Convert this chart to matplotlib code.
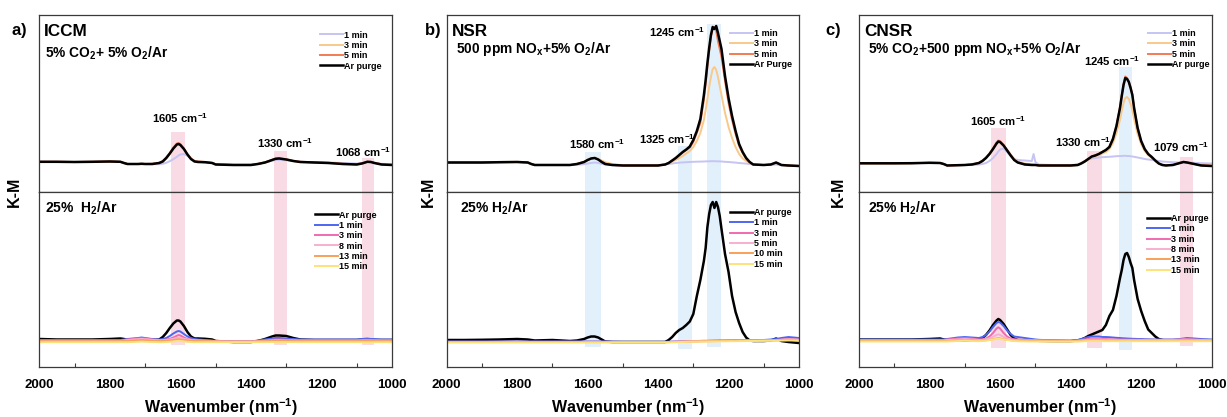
import matplotlib
matplotlib.use('Agg')
import matplotlib.pyplot as plt

plt.rcParams['font.family'] = ['Liberation Sans', 'DejaVu Sans']
plt.rcParams['font.weight'] = 'bold'
plt.rcParams['mathtext.fontset'] = 'custom'
plt.rcParams['mathtext.rm'] = 'Liberation Sans'
plt.rcParams['mathtext.bf'] = 'Liberation Sans:bold'
plt.rcParams['mathtext.default'] = 'bf'

# ---------------- ICCM (a) ----------------
wn_a = [2000, 1950, 1900, 1850, 1800, 1770, 1760, 1750,
        1720, 1710, 1700, 1680, 1660, 1650, 1640, 1630,
        1620, 1610, 1605, 1600, 1590, 1580, 1570, 1560,
        1550, 1530, 1510, 1500, 1450, 1400, 1380, 1360,
        1340, 1330, 1320, 1300, 1280, 1260, 1220, 1180,
        1140, 1100, 1085, 1070, 1060, 1050, 1030, 1000]

iccm_ads_1 = [0.12, 0.12, 0.10, 0.12, 0.15, 0.12, 0.00, -0.10,
              -0.10, -0.08, -0.10, -0.12, -0.12, -0.08, 0.02, 0.18,
              0.38, 0.62, 0.75, 0.85, 0.90, 0.72, 0.42, 0.22,
              0.12, 0.05, 0.00, -0.12, -0.18, -0.18, -0.08, 0.05,
              0.22, 0.30, 0.32, 0.28, 0.20, 0.12, 0.08, 0.05,
              0.00, -0.05, 0.00, 0.10, 0.08, 0.02, -0.08, -0.12]
iccm_ads_3 = [0.12, 0.12, 0.10, 0.12, 0.15, 0.12, 0.00, -0.10,
              -0.10, -0.08, -0.10, -0.10, 0.00, 0.12, 0.45, 0.90,
              1.40, 1.80, 1.85, 1.78, 1.38, 0.85, 0.42, 0.18,
              0.12, 0.08, 0.00, -0.15, -0.20, -0.20, -0.10, 0.05,
              0.28, 0.40, 0.44, 0.34, 0.20, 0.10, 0.05, 0.00,
              -0.10, -0.15, -0.05, 0.10, 0.08, 0.00, -0.15, -0.20]
iccm_ads_5 = [0.12, 0.12, 0.10, 0.12, 0.15, 0.12, 0.00, -0.10,
              -0.10, -0.08, -0.10, -0.08, 0.02, 0.20, 0.55, 1.00,
              1.55, 1.95, 2.00, 1.90, 1.45, 0.90, 0.45, 0.20,
              0.15, 0.10, 0.02, -0.12, -0.18, -0.18, -0.08, 0.08,
              0.32, 0.45, 0.48, 0.38, 0.22, 0.12, 0.06, 0.02,
              -0.08, -0.12, -0.02, 0.14, 0.12, 0.02, -0.12, -0.18]
iccm_ads_ar = [0.12, 0.12, 0.10, 0.12, 0.15, 0.12, 0.00, -0.10,
               -0.10, -0.08, -0.10, -0.10, 0.00, 0.15, 0.50, 0.95,
               1.45, 1.85, 1.90, 1.80, 1.40, 0.85, 0.40, 0.15,
               0.10, 0.08, 0.00, -0.15, -0.20, -0.20, -0.10, 0.05,
               0.30, 0.42, 0.45, 0.35, 0.20, 0.10, 0.05, 0.00,
               -0.10, -0.15, -0.05, 0.12, 0.10, 0.00, -0.15, -0.20]

iccm_red_ar = [0.10, 0.05, 0.05, 0.05, 0.10, 0.15, 0.10, 0.00,
               0.00, 0.05, 0.00, 0.00, 0.05, 0.30, 0.70, 1.20,
               1.65, 1.95, 1.95, 1.85, 1.40, 0.80, 0.35, 0.15,
               0.15, 0.12, 0.05, -0.10, -0.20, -0.20, -0.10, 0.10,
               0.35, 0.45, 0.45, 0.40, 0.20, 0.05, 0.00, 0.00,
               0.00, 0.00, 0.05, 0.05, 0.05, 0.00, 0.00, 0.00]
iccm_red_1 = [0.00, 0.00, 0.00, 0.00, 0.00, 0.00, 0.05, 0.10,
              0.20, 0.25, 0.20, 0.10, 0.05, 0.10, 0.20, 0.40,
              0.65, 0.85, 0.90, 0.85, 0.60, 0.35, 0.20, 0.10,
              0.05, 0.00, -0.05, -0.10, -0.15, -0.15, -0.05, 0.05,
              0.15, 0.20, 0.20, 0.15, 0.10, 0.05, 0.05, 0.05,
              0.05, 0.05, 0.10, 0.15, 0.10, 0.10, 0.05, 0.05]
iccm_red_3 = [-0.05, -0.05, -0.05, -0.05, -0.05, -0.05, 0.00, 0.05,
              0.15, 0.18, 0.15, 0.05, 0.00, 0.00, 0.05, 0.12,
              0.25, 0.42, 0.50, 0.45, 0.25, 0.10, 0.05, 0.00,
              0.00, -0.05, -0.08, -0.12, -0.15, -0.15, -0.10, -0.05,
              0.02, 0.05, 0.05, 0.02, 0.00, -0.02, -0.02, -0.02,
              -0.02, -0.02, 0.00, 0.02, 0.00, 0.00, -0.02, -0.02]
iccm_red_8 = [-0.08, -0.08, -0.08, -0.08, -0.08, -0.08, -0.05, 0.00,
              0.08, 0.10, 0.08, 0.02, -0.03, -0.03, 0.00, 0.05,
              0.12, 0.22, 0.25, 0.22, 0.12, 0.05, 0.00, -0.03,
              -0.05, -0.08, -0.10, -0.12, -0.15, -0.15, -0.12, -0.08,
              -0.05, -0.03, -0.03, -0.05, -0.06, -0.07, -0.07, -0.07,
              -0.07, -0.07, -0.05, -0.05, -0.05, -0.06, -0.07, -0.07]
iccm_red_13 = [-0.12, -0.12, -0.12, -0.12, -0.12, -0.12, -0.10, -0.08,
               -0.02, 0.00, -0.02, -0.06, -0.10, -0.10, -0.08, -0.05,
               0.00, 0.05, 0.08, 0.05, 0.00, -0.05, -0.08, -0.10,
               -0.10, -0.12, -0.12, -0.14, -0.16, -0.16, -0.14, -0.12,
               -0.10, -0.10, -0.10, -0.10, -0.11, -0.12, -0.12, -0.12,
               -0.12, -0.12, -0.10, -0.10, -0.10, -0.11, -0.12, -0.12]
iccm_red_15 = [-0.22, -0.22, -0.22, -0.22, -0.22, -0.22, -0.22, -0.22,
               -0.18, -0.16, -0.18, -0.20, -0.22, -0.22, -0.20, -0.18,
               -0.14, -0.10, -0.08, -0.10, -0.14, -0.18, -0.20, -0.22,
               -0.22, -0.22, -0.22, -0.22, -0.22, -0.22, -0.22, -0.22,
               -0.20, -0.20, -0.20, -0.20, -0.21, -0.22, -0.22, -0.22,
               -0.22, -0.22, -0.22, -0.22, -0.22, -0.22, -0.22, -0.22]

# ---------------- NSR (b) ----------------
wn_b = [2000, 1950, 1900, 1850, 1800, 1770, 1760, 1750,
        1700, 1650, 1630, 1610, 1600, 1590, 1580, 1570,
        1560, 1550, 1530, 1500, 1450, 1400, 1380, 1370,
        1360, 1350, 1340, 1330, 1320, 1310, 1300, 1290,
        1280, 1270, 1265, 1260, 1255, 1250, 1245, 1240,
        1235, 1230, 1225, 1220, 1210, 1200, 1190, 1180,
        1170, 1160, 1150, 1140, 1130, 1100, 1080, 1065,
        1050, 1030, 1000]

nsr_ads_1 = [0.05, 0.05, 0.05, 0.08, 0.10, 0.05, -0.10, -0.20,
             -0.20, -0.20, -0.18, -0.12, -0.05, 0.00, 0.05, 0.00,
             -0.08, -0.15, -0.20, -0.25, -0.25, -0.22, -0.15, -0.10,
             -0.05, 0.00, 0.03, 0.06, 0.08, 0.10, 0.12, 0.13,
             0.14, 0.15, 0.16, 0.17, 0.17, 0.18, 0.18, 0.18,
             0.17, 0.17, 0.16, 0.15, 0.12, 0.10, 0.07, 0.04,
             0.00, -0.03, -0.06, -0.10, -0.15, -0.20, -0.20, -0.15,
             -0.22, -0.25, -0.28]
nsr_ads_3 = [0.08, 0.08, 0.08, 0.10, 0.12, 0.08, -0.08, -0.18,
             -0.18, -0.18, -0.08, 0.12, 0.32, 0.48, 0.52, 0.42,
             0.25, 0.08, -0.10, -0.22, -0.25, -0.25, -0.15, 0.00,
             0.15, 0.30, 0.50, 0.70, 0.95, 1.20, 1.60, 2.20,
             3.00, 4.30, 5.30, 6.40, 7.60, 8.60, 9.40, 9.60,
             9.30, 8.60, 7.70, 6.80, 5.00, 3.60, 2.50, 1.60,
             0.90, 0.45, 0.20, 0.00, -0.15, -0.20, -0.15, 0.05,
             -0.20, -0.25, -0.30]
nsr_ads_5 = [0.05, 0.05, 0.05, 0.08, 0.10, 0.05, -0.10, -0.20,
             -0.20, -0.20, -0.10, 0.10, 0.30, 0.45, 0.50, 0.35,
             0.12, -0.08, -0.20, -0.25, -0.25, -0.25, -0.15, 0.00,
             0.22, 0.45, 0.75, 1.05, 1.30, 1.55, 2.10, 3.00,
             4.00, 6.30, 7.90, 9.60, 11.20, 12.60, 13.40, 13.60,
             13.20, 12.20, 11.40, 10.60, 8.20, 6.00, 4.30, 2.90,
             1.70, 1.00, 0.40, 0.08, -0.15, -0.20, -0.15, 0.05,
             -0.20, -0.25, -0.30]
nsr_ads_ar = [0.05, 0.05, 0.05, 0.08, 0.10, 0.05, -0.10, -0.20,
              -0.20, -0.20, -0.10, 0.10, 0.30, 0.45, 0.50, 0.35,
              0.10, -0.10, -0.20, -0.25, -0.25, -0.25, -0.15, 0.00,
              0.25, 0.50, 0.80, 1.10, 1.35, 1.65, 2.30, 3.20,
              4.40, 6.80, 8.30, 10.00, 11.50, 12.80, 13.60, 13.40,
              13.70, 13.00, 12.20, 11.40, 8.70, 6.50, 4.70, 3.20,
              1.90, 1.10, 0.50, 0.10, -0.15, -0.20, -0.15, 0.05,
              -0.20, -0.25, -0.30]

nsr_red_ar = [0.00, 0.00, 0.02, 0.05, 0.10, 0.05, 0.00, -0.05,
              0.00, -0.10, -0.05, 0.10, 0.25, 0.35, 0.35, 0.25,
              0.05, -0.15, -0.20, -0.20, -0.20, -0.20, -0.20, 0.00,
              0.30, 0.70, 1.00, 1.20, 1.50, 1.85, 2.60, 4.40,
              6.00, 7.90, 9.20, 11.30, 12.60, 13.50, 13.80, 13.20,
              13.80, 13.30, 12.40, 11.10, 8.60, 6.80, 4.40, 2.80,
              1.70, 0.80, 0.25, -0.05, -0.10, -0.10, -0.05, 0.15,
              -0.10, -0.20, -0.30]
nsr_red_1 = [-0.15, -0.15, -0.15, -0.15, -0.15, -0.15, -0.15, -0.15,
             -0.15, -0.15, -0.15, -0.15, -0.15, -0.15, -0.15, -0.15,
             -0.15, -0.15, -0.16, -0.18, -0.18, -0.18, -0.18, -0.17,
             -0.16, -0.15, -0.14, -0.13, -0.12, -0.11, -0.10, -0.10,
             -0.09, -0.08, -0.08, -0.08, -0.07, -0.07, -0.07, -0.06,
             -0.06, -0.06, -0.05, -0.05, -0.05, -0.04, -0.04, -0.03,
             -0.03, -0.02, -0.02, -0.01, 0.00, 0.00, 0.05, 0.10,
             0.20, 0.30, 0.20]
nsr_red_3 = [-0.18, -0.18, -0.18, -0.18, -0.18, -0.18, -0.18, -0.18,
             -0.18, -0.18, -0.18, -0.18, -0.18, -0.18, -0.18, -0.18,
             -0.18, -0.18, -0.19, -0.20, -0.20, -0.20, -0.20, -0.19,
             -0.18, -0.17, -0.16, -0.15, -0.14, -0.13, -0.12, -0.12,
             -0.11, -0.10, -0.10, -0.10, -0.10, -0.09, -0.09, -0.09,
             -0.09, -0.08, -0.08, -0.08, -0.07, -0.07, -0.06, -0.06,
             -0.05, -0.05, -0.04, -0.04, -0.03, -0.03, -0.02, 0.00,
             0.05, 0.08, 0.05]
nsr_red_5 = [-0.19, -0.19, -0.19, -0.19, -0.19, -0.19, -0.19, -0.19,
             -0.19, -0.19, -0.19, -0.19, -0.19, -0.19, -0.19, -0.19,
             -0.19, -0.19, -0.20, -0.21, -0.21, -0.21, -0.21, -0.20,
             -0.19, -0.18, -0.17, -0.16, -0.15, -0.14, -0.13, -0.13,
             -0.12, -0.11, -0.11, -0.11, -0.11, -0.10, -0.10, -0.10,
             -0.10, -0.09, -0.09, -0.09, -0.08, -0.08, -0.07, -0.07,
             -0.06, -0.06, -0.05, -0.05, -0.04, -0.04, -0.03, -0.02,
             0.02, 0.04, 0.02]
nsr_red_10 = [-0.20, -0.20, -0.20, -0.20, -0.20, -0.20, -0.20, -0.20,
              -0.20, -0.20, -0.20, -0.20, -0.20, -0.20, -0.20, -0.20,
              -0.20, -0.20, -0.21, -0.22, -0.22, -0.22, -0.22, -0.21,
              -0.20, -0.19, -0.18, -0.17, -0.16, -0.15, -0.14, -0.14,
              -0.13, -0.12, -0.12, -0.12, -0.12, -0.11, -0.11, -0.11,
              -0.11, -0.10, -0.10, -0.10, -0.09, -0.09, -0.08, -0.08,
              -0.07, -0.07, -0.06, -0.06, -0.05, -0.05, -0.04, -0.04,
              0.00, 0.02, 0.00]
nsr_red_15 = [-0.25, -0.25, -0.25, -0.25, -0.25, -0.25, -0.25, -0.25,
              -0.25, -0.25, -0.25, -0.25, -0.25, -0.25, -0.25, -0.25,
              -0.25, -0.25, -0.25, -0.25, -0.25, -0.25, -0.25, -0.24,
              -0.23, -0.22, -0.21, -0.20, -0.19, -0.18, -0.17, -0.17,
              -0.16, -0.16, -0.16, -0.15, -0.15, -0.15, -0.15, -0.14,
              -0.14, -0.14, -0.14, -0.13, -0.13, -0.12, -0.12, -0.12,
              -0.11, -0.11, -0.10, -0.10, -0.10, -0.09, -0.08, -0.08,
              -0.06, -0.05, -0.05]

# ---------------- CNSR (c) ----------------
wn_c = [2000, 1950, 1900, 1850, 1800, 1770, 1760, 1750,
        1720, 1700, 1680, 1660, 1650, 1640, 1630, 1620,
        1610, 1605, 1600, 1590, 1580, 1570, 1560, 1550,
        1530, 1510, 1505, 1500, 1490, 1450, 1400, 1380,
        1370, 1360, 1350, 1340, 1330, 1320, 1310, 1300,
        1290, 1280, 1270, 1260, 1255, 1250, 1245, 1240,
        1235, 1230, 1225, 1220, 1210, 1200, 1190, 1180,
        1170, 1160, 1150, 1140, 1130, 1110, 1090, 1080,
        1070, 1050, 1030, 1000]

cnsr_ads_1 = [0.07, 0.07, 0.07, 0.08, 0.12, 0.10, 0.00, -0.15,
              -0.12, -0.10, -0.10, -0.05, 0.00, 0.10, 0.30, 0.60,
              1.00, 1.25, 1.45, 1.55, 1.20, 0.80, 0.50, 0.40,
              0.35, 0.30, 1.00, 0.20, -0.05, -0.10, -0.10, -0.05,
              0.10, 0.30, 0.45, 0.55, 0.60, 0.65, 0.68, 0.70,
              0.72, 0.75, 0.78, 0.80, 0.80, 0.82, 0.82, 0.80,
              0.80, 0.78, 0.75, 0.72, 0.65, 0.58, 0.50, 0.45,
              0.40, 0.35, 0.30, 0.25, 0.22, 0.18, 0.15, 0.18,
              0.15, 0.12, 0.08, 0.05]
cnsr_ads_3 = [0.07, 0.07, 0.07, 0.08, 0.12, 0.10, 0.00, -0.15,
              -0.12, -0.10, -0.05, 0.10, 0.30, 0.60, 1.00, 1.50,
              2.00, 2.20, 2.15, 1.85, 1.40, 0.95, 0.50, 0.25,
              0.05, -0.05, -0.08, -0.10, -0.15, -0.15, -0.15, -0.10,
              0.05, 0.22, 0.45, 0.65, 0.78, 0.90, 1.05, 1.20,
              1.50, 2.10, 3.10, 4.40, 5.30, 6.10, 6.60, 6.70,
              6.50, 6.00, 5.40, 4.50, 3.00, 2.00, 1.30, 0.90,
              0.60, 0.30, 0.05, -0.08, -0.12, -0.08, 0.10, 0.18,
              0.15, 0.00, -0.12, -0.18]
cnsr_ads_5 = [0.07, 0.07, 0.07, 0.08, 0.12, 0.10, 0.00, -0.15,
              -0.12, -0.10, -0.05, 0.12, 0.35, 0.65, 1.05, 1.58,
              2.15, 2.35, 2.28, 1.90, 1.40, 0.90, 0.45, 0.18,
              -0.03, -0.08, -0.08, -0.08, -0.13, -0.15, -0.15, -0.10,
              0.08, 0.28, 0.52, 0.75, 0.88, 1.02, 1.22, 1.42,
              1.75, 2.55, 3.85, 5.70, 6.90, 8.00, 8.75, 8.60,
              8.25, 7.70, 6.95, 5.60, 3.55, 2.25, 1.45, 0.98,
              0.68, 0.32, 0.05, -0.08, -0.12, -0.08, 0.12, 0.22,
              0.15, 0.02, -0.12, -0.18]
cnsr_ads_ar = [0.07, 0.07, 0.07, 0.08, 0.12, 0.10, 0.00, -0.15,
               -0.12, -0.10, -0.05, 0.10, 0.30, 0.60, 1.00, 1.50,
               2.05, 2.25, 2.20, 1.85, 1.35, 0.85, 0.40, 0.15,
               -0.05, -0.10, -0.10, -0.10, -0.15, -0.15, -0.15, -0.10,
               0.05, 0.25, 0.50, 0.75, 0.85, 1.00, 1.20, 1.40,
               1.70, 2.50, 3.80, 5.60, 6.80, 7.90, 8.60, 8.50,
               8.20, 7.60, 6.90, 5.60, 3.60, 2.30, 1.50, 1.00,
               0.70, 0.35, 0.05, -0.10, -0.15, -0.10, 0.10, 0.20,
               0.15, 0.00, -0.15, -0.20]

cnsr_red_ar = [0.05, 0.05, 0.05, 0.05, 0.10, 0.15, 0.05, 0.00,
               0.00, 0.00, 0.00, 0.05, 0.20, 0.50, 0.95, 1.50,
               1.95, 2.10, 2.00, 1.60, 1.05, 0.50, 0.15, 0.00,
               -0.05, -0.05, -0.05, -0.05, -0.08, -0.10, -0.10, -0.05,
               0.05, 0.20, 0.40, 0.55, 0.70, 0.85, 1.00, 1.50,
               2.40, 3.00, 4.40, 6.20, 7.00, 8.00, 8.60, 8.70,
               8.30, 7.70, 7.20, 6.00, 4.10, 2.90, 1.90, 1.05,
               0.70, 0.35, 0.10, 0.00, -0.05, -0.05, 0.00, 0.00,
               0.00, 0.00, -0.05, -0.05]
cnsr_red_1 = [0.05, 0.05, 0.05, 0.05, 0.05, 0.05, 0.05, 0.10,
              0.25, 0.30, 0.25, 0.20, 0.30, 0.50, 0.85, 1.30,
              1.70, 1.80, 1.75, 1.40, 0.95, 0.60, 0.35, 0.30,
              0.20, 0.10, 0.08, 0.05, 0.02, -0.05, -0.10, 0.00,
              0.10, 0.20, 0.30, 0.35, 0.35, 0.35, 0.30, 0.30,
              0.28, 0.25, 0.22, 0.20, 0.18, 0.17, 0.16, 0.15,
              0.14, 0.13, 0.12, 0.12, 0.10, 0.10, 0.08, 0.07,
              0.06, 0.05, 0.05, 0.05, 0.05, 0.05, 0.10, 0.15,
              0.20, 0.15, 0.10, 0.05]
cnsr_red_3 = [0.00, 0.00, 0.00, 0.00, 0.00, 0.00, 0.00, 0.05,
              0.15, 0.20, 0.15, 0.05, 0.08, 0.15, 0.35, 0.70,
              1.15, 1.27, 1.15, 0.70, 0.35, 0.15, 0.08, 0.05,
              0.02, 0.00, 0.00, 0.00, -0.02, -0.05, -0.08, -0.05,
              0.00, 0.05, 0.10, 0.15, 0.15, 0.15, 0.12, 0.10,
              0.08, 0.06, 0.05, 0.05, 0.05, 0.04, 0.04, 0.04,
              0.04, 0.03, 0.03, 0.03, 0.02, 0.02, 0.02, 0.02,
              0.02, 0.02, 0.02, 0.02, 0.02, 0.02, 0.05, 0.08,
              0.08, 0.05, 0.02, 0.00]
cnsr_red_8 = [-0.05, -0.05, -0.05, -0.05, -0.05, -0.05, -0.05, 0.00,
              0.05, 0.10, 0.05, 0.00, 0.02, 0.08, 0.18, 0.32,
              0.50, 0.57, 0.50, 0.32, 0.15, 0.05, 0.00, -0.02,
              -0.04, -0.05, -0.05, -0.05, -0.06, -0.08, -0.10, -0.08,
              -0.05, -0.02, 0.02, 0.05, 0.05, 0.05, 0.04, 0.03,
              0.02, 0.01, 0.00, 0.00, 0.00, 0.00, 0.00, 0.00,
              0.00, 0.00, 0.00, 0.00, 0.00, 0.00, 0.00, 0.00,
              0.00, 0.00, 0.00, 0.00, 0.00, 0.00, 0.02, 0.04,
              0.04, 0.02, 0.00, -0.02]
cnsr_red_13 = [-0.10, -0.10, -0.10, -0.10, -0.10, -0.10, -0.10, -0.10,
               -0.05, -0.02, -0.05, -0.08, -0.06, -0.03, 0.02, 0.08,
               0.15, 0.18, 0.15, 0.08, 0.02, -0.03, -0.06, -0.08,
               -0.10, -0.10, -0.10, -0.10, -0.11, -0.12, -0.12, -0.11,
               -0.10, -0.08, -0.06, -0.05, -0.05, -0.05, -0.06, -0.06,
               -0.07, -0.07, -0.07, -0.07, -0.07, -0.07, -0.07, -0.07,
               -0.07, -0.07, -0.07, -0.07, -0.07, -0.07, -0.07, -0.07,
               -0.07, -0.07, -0.07, -0.07, -0.07, -0.07, -0.05, -0.04,
               -0.04, -0.06, -0.08, -0.08]
cnsr_red_15 = [-0.15, -0.15, -0.15, -0.15, -0.15, -0.15, -0.15, -0.15,
               -0.10, -0.06, -0.10, -0.12, -0.10, -0.06, 0.00, 0.05,
               0.10, 0.12, 0.10, 0.05, 0.00, -0.05, -0.10, -0.12,
               -0.14, -0.15, -0.15, -0.15, -0.15, -0.16, -0.16, -0.15,
               -0.14, -0.12, -0.11, -0.10, -0.10, -0.10, -0.11, -0.12,
               -0.12, -0.12, -0.12, -0.12, -0.12, -0.12, -0.12, -0.12,
               -0.12, -0.12, -0.12, -0.12, -0.12, -0.12, -0.12, -0.12,
               -0.12, -0.12, -0.12, -0.12, -0.12, -0.12, -0.12, -0.12,
               -0.12, -0.12, -0.12, -0.12]

# highlighted bands: (low edge, high edge, colour key, top in upper plot, bottom in lower plot)
bands_a = [(1587, 1627, 'p', 3.1, -0.5), (1297, 1335, 'p', 1.2, -0.5), (1050, 1086, 'p', 0.5, -0.5)]
bands_b = [(1562, 1607, 'b', 1.1, -0.7), (1304, 1343, 'b', 1.7, -0.9), (1222, 1262, 'b', 13.9, -0.7)]
bands_c = [(1584, 1626, 'p', 3.6, -0.8), (1311, 1353, 'p', 1.3, -0.8),
           (1225, 1263, 'b', 9.7, -1.0), (1052, 1090, 'p', 0.7, -0.6)]

# peak labels: (value, x, y)
peaks_a = [(1605, 1601, 4.5), (1330, 1303, 2.0), (1068, 1081, 1.1)]
peaks_b = [(1245, 1345, 13.1), (1580, 1573, 1.9), (1325, 1376, 2.4)]
peaks_c = [(1605, 1606, 4.3), (1330, 1366, 2.2), (1245, 1284, 10.3), (1079, 1086, 1.7)]

band_col = {'p': '#f9dbe5', 'b': '#e2f0fb'}
ads_cols = ['#c6c4f2', '#f7c98b', '#f47b52', 'black']
red_cols = ['black', '#4d66f0', '#f06bb0', '#f7b0d2', '#f9a05a', '#fde27a']

W, H = 1227, 417
fig = plt.figure(figsize=(W / 100, H / 100), dpi=100)


def fx(x):
    return x / W


def fy(y):
    return 1 - y / H


panels = [
    dict(left=39.3, right=392, letter='a', name='ICCM', let_x=19,
         feed='5% CO$_2$+ 5% O$_2$/Ar', feed_x=45, feed_y=53, red='25%  H$_2$/Ar', red_x=45,
         wn=wn_a, ads=[iccm_ads_1, iccm_ads_3, iccm_ads_5, iccm_ads_ar],
         ads_lab=['1 min', '3 min', '5 min', 'Ar purge'],
         red_lines=[iccm_red_ar, iccm_red_1, iccm_red_3, iccm_red_8, iccm_red_13, iccm_red_15],
         red_lab=['Ar purge', '1 min', '3 min', '8 min', '13 min', '15 min'],
         bands=bands_a, peaks=peaks_a, ylim_t=(-2.9, 14.8), ylim_b=(-2.7, 14.8),
         leg_t=(320, 30.5), leg_b=(315, 210.5), km_x=14),
    dict(left=446.7, right=799, letter='b', name='NSR', let_x=432,
         feed='500 ppm NO$_x$+5% O$_2$/Ar', feed_x=456, feed_y=49.5, red='25% H$_2$/Ar', red_x=460,
         wn=wn_b, ads=[nsr_ads_1, nsr_ads_3, nsr_ads_5, nsr_ads_ar],
         ads_lab=['1 min', '3 min', '5 min', 'Ar Purge'],
         red_lines=[nsr_red_ar, nsr_red_1, nsr_red_3, nsr_red_5, nsr_red_10, nsr_red_15],
         red_lab=['Ar purge', '1 min', '3 min', '5 min', '10 min', '15 min'],
         bands=bands_b, peaks=peaks_b, ylim_t=(-2.9, 14.8), ylim_b=(-2.7, 14.8),
         leg_t=(730, 29), leg_b=(730, 208), km_x=428),
    dict(left=859, right=1211.7, letter='c', name='CNSR', let_x=833,
         feed='5% CO$_2$+500 ppm NO$_x$+5% O$_2$/Ar', feed_x=868, feed_y=49, red='25% H$_2$/Ar', red_x=868,
         wn=wn_c, ads=[cnsr_ads_1, cnsr_ads_3, cnsr_ads_5, cnsr_ads_ar],
         ads_lab=['1 min', '3 min', '5 min', 'Ar purge'],
         red_lines=[cnsr_red_ar, cnsr_red_1, cnsr_red_3, cnsr_red_8, cnsr_red_13, cnsr_red_15],
         red_lab=['Ar purge', '1 min', '3 min', '8 min', '13 min', '15 min'],
         bands=bands_c, peaks=peaks_c, ylim_t=(-2.8, 14.9), ylim_b=(-2.7, 14.8),
         leg_t=(1148, 29), leg_b=(1147, 214), km_x=838),
]

spine_col = '#3a3a3a'

for p in panels:
    l, r = p['left'], p['right']
    ax_t = fig.add_axes([fx(l), fy(192), (r - l) / W, 177 / H])
    ax_b = fig.add_axes([fx(l), fy(367), (r - l) / W, 175 / H])

    for ax, lim in ((ax_t, p['ylim_t']), (ax_b, p['ylim_b'])):
        ax.set_xlim(2000, 1000)
        ax.set_ylim(*lim)
        for s in ax.spines.values():
            s.set_color(spine_col)
            s.set_linewidth(0.9)

    ax_t.tick_params(bottom=False, labelbottom=False, left=False, labelleft=False)
    ax_b.tick_params(left=False, labelleft=False)
    ax_b.set_xticks([2000, 1800, 1600, 1400, 1200, 1000])
    ax_b.set_xticks([1900, 1700, 1500, 1300, 1100], minor=True)
    ax_b.tick_params(which='major', length=0, pad=8.5, labelsize=9.5, colors='black')
    ax_b.tick_params(which='minor', direction='in', length=3, width=0.8, color=spine_col)
    for lbl in ax_b.get_xticklabels():
        lbl.set_fontweight('bold')

    # shaded bands run through both stacked plots
    for lo, hi, key, top, bot in p['bands']:
        ax_t.fill_between([hi, lo], p['ylim_t'][0], top, color=band_col[key], lw=0, zorder=0)
        ax_b.fill_between([hi, lo], bot, p['ylim_b'][1], color=band_col[key], lw=0, zorder=0)

    for vals, col, lab in zip(p['ads'], ads_cols, p['ads_lab']):
        lw = 1.8 if col == 'black' else 1.4
        ax_t.plot(p['wn'], vals, color=col, lw=lw, label=lab)
    for vals, col, lab in zip(p['red_lines'], red_cols, p['red_lab']):
        lw = 1.8 if col == 'black' else 1.4
        ax_b.plot(p['wn'], vals, color=col, lw=lw, label=lab)

    for ax, (lx, ly) in ((ax_t, p['leg_t']), (ax_b, p['leg_b'])):
        ax.legend(loc='upper left', bbox_to_anchor=(fx(lx), fy(ly)), bbox_transform=fig.transFigure,
                  frameon=False, fontsize=6.5, handlelength=2.5, handletextpad=0.2,
                  labelspacing=0.15, borderpad=0, borderaxespad=0)

    for val, x, y in p['peaks']:
        ax_t.text(x, y, f'{val} cm$^{{-1}}$', ha='center', va='center', fontsize=8.2)

    fig.text(fx(p['let_x']), fy(31), p['letter'] + r'$\mathregular{)}$', ha='center', va='center', fontsize=12)
    fig.text(fx(l + 5), fy(31.5), p['name'], ha='left', va='center', fontsize=12.3)
    fig.text(fx(p['feed_x']), fy(p['feed_y']), p['feed'], ha='left', va='center', fontsize=9.9)
    fig.text(fx(p['red_x']), fy(208), p['red'], ha='left', va='center', fontsize=10)
    fig.text(fx(p['km_x']), fy(192), 'K-M', rotation=90, ha='center', va='center', fontsize=11.5)
    fig.text(fx((l + r) / 2 + 5), fy(407), 'Wavenumber (nm$^{-1}$)', ha='center', va='center', fontsize=11.5)

fig.savefig('out.png', dpi=100)
